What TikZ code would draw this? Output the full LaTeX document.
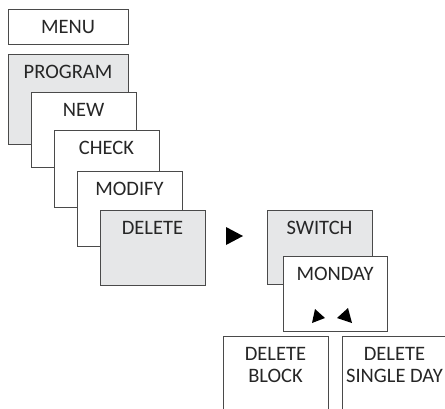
\documentclass[tikz,border=0pt]{standalone}
\usepackage{fontspec}
\setmainfont{Carlito}
\definecolor{boxgray}{HTML}{E6E7E8}
\definecolor{edge}{HTML}{4A4A4A}
\tikzset{
  box/.style={draw=edge, line width=0.9pt, fill=white, anchor=north west, inner sep=0pt, outer sep=0pt, minimum width=105pt, minimum height=75pt},
  grey/.style={fill=boxgray},
  txt/.style={font=\fontsize{20.5}{22}\selectfont, anchor=north, inner sep=0pt, align=center, text=black!85},
  tri/.style={fill=black, draw=none}
}
\begin{document}
\begin{tikzpicture}[x=1pt,y=-1pt]
\useasboundingbox (0,0) rectangle (445,408);
\clip (0,0) rectangle (445,408);
% MENU
\node[box, minimum width=120pt, minimum height=35pt] (menu) at (8,9) {};
\node[txt] (menut) at ([yshift=-11pt]menu.north) {MENU};
% PROGRAM stack
\node[box, grey, minimum width=120pt, minimum height=90pt] (program) at (8,54) {};
\node[txt] (programt) at ([yshift=-11pt]program.north) {PROGRAM};
\node[box] (new) at (31,92) {};
\node[txt] (newt) at ([yshift=-11pt]new.north) {NEW};
\node[box, minimum height=77pt] (check) at (54,130) {};
\node[txt] (checkt) at ([yshift=-11pt]check.north) {CHECK};
\node[box] (modify) at (77,171) {};
\node[txt] (modifyt) at ([yshift=-11pt]modify.north) {MODIFY};
\node[box, grey] (delete) at (100,210) {};
\node[txt] (deletet) at ([yshift=-11pt]delete.north) {DELETE};
% arrow
\fill[tri] (226,227) -- (226,245) -- (243,236) -- cycle;
% SWITCH / MONDAY
\node[box, grey, minimum height=74pt] (switch) at (267,210) {};
\node[txt] (switcht) at ([yshift=-11pt]switch.north) {SWITCH};
\node[box, minimum width=104pt] (monday) at (283,256) {};
\node[txt] (mondayt) at ([yshift=-11pt]monday.north) {MONDAY};
\fill[tri] (312,323) -- (315,309) -- (325,318) -- cycle;
\fill[tri] (337,318) -- (348,308) -- (352,323) -- cycle;
% bottom boxes
\node[box, minimum height=100pt] (dblock) at (223,336) {};
\node[txt] (dblockt) at ([yshift=-11pt]dblock.north) {DELETE\\BLOCK};
\node[box, minimum height=100pt] (dsingle) at (342,336) {};
\node[txt] (dsinglet) at ([yshift=-11pt]dsingle.north) {DELETE\\SINGLE DAY};
\end{tikzpicture}
\end{document}
